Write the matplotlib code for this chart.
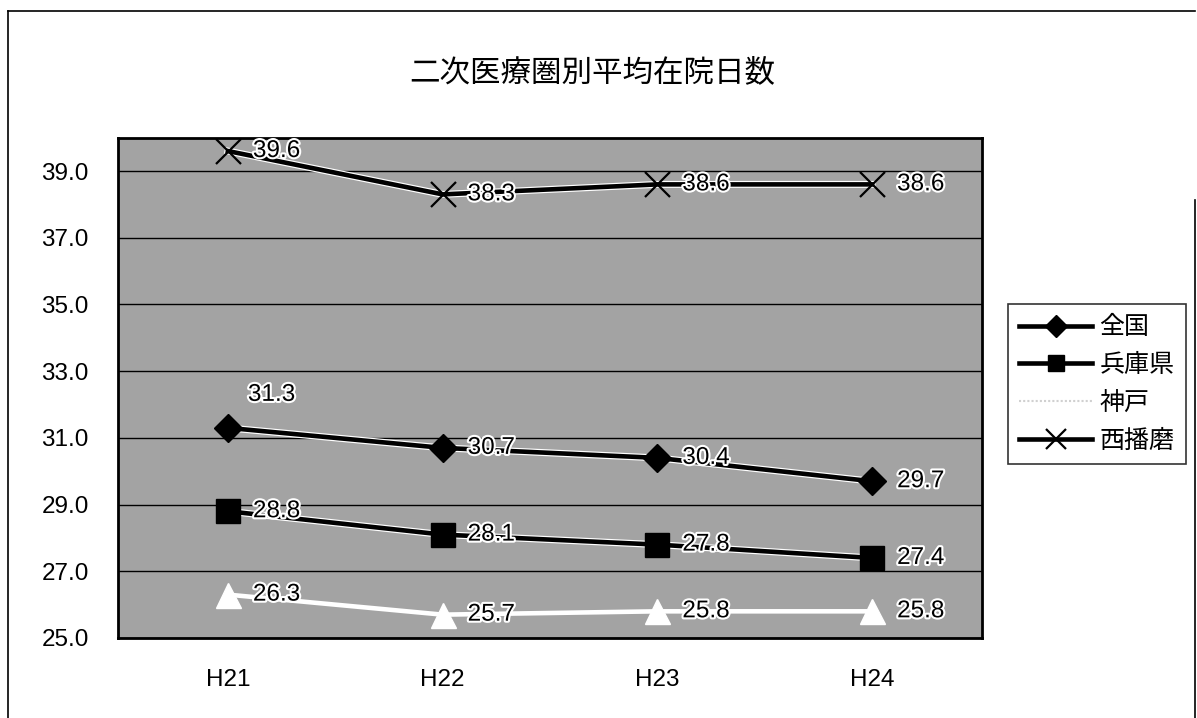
# -*- coding: utf-8 -*-
"""
二次医療圏別平均在院日数 - line chart.
"""

import matplotlib
matplotlib.use("Agg")
from matplotlib import pyplot as plt
from matplotlib import patheffects as pe
from matplotlib.lines import Line2D

plt.rcParams["font.family"] = ["Liberation Sans", "Noto Sans CJK JP", "DejaVu Sans"]

# #############################################################################
# Data
# #############################################################################

years = ["H21", "H22", "H23", "H24"]
zenkoku = [31.3, 30.7, 30.4, 29.7]
hyogo = [28.8, 28.1, 27.8, 27.4]
kobe = [26.3, 25.7, 25.8, 25.8]
nishiharima = [39.6, 38.3, 38.6, 38.6]

series_names = ["全国", "兵庫県", "神戸", "西播磨"]
y_ticks = [25.0, 27.0, 29.0, 31.0, 33.0, 35.0, 37.0, 39.0]

# #############################################################################
# Figure
# #############################################################################

W, H = 1197, 718
figure = plt.figure(figsize=(W / 100, H / 100), dpi=100)
axis = figure.add_axes([118 / W, 1 - 638 / H, (982 - 118) / W, (638 - 137.7) / H])

axis.set_facecolor("#a3a3a3")
xs = list(range(len(years)))

halo = [pe.Stroke(linewidth=5, foreground="white"), pe.Normal()]

line_colors = ["black", "black", "white", "black"]
markers = [
    dict(marker="D", markersize=14, markerfacecolor="black", markeredgecolor="black"),
    dict(marker="s", markersize=17, markerfacecolor="black", markeredgecolor="black"),
    dict(marker="^", markersize=18, markerfacecolor="white", markeredgecolor="white"),
    dict(marker="x", markersize=18, markeredgewidth=1.6, markeredgecolor="black"),
]

all_series = [zenkoku, hyogo, kobe, nishiharima]
for values, color, mk in zip(all_series, line_colors, markers):
    effects = halo if color == "black" else None
    axis.plot(xs, values, color=color, linewidth=3.3, path_effects=effects,
              zorder=3)
    axis.plot(xs, values, linestyle="none", zorder=4, **mk)

# data labels, right of the marker (31.3 sits above-right like in the source)
label_halo = [pe.withStroke(linewidth=3, foreground="white")]
for values in all_series:
    for x, v in zip(xs, values):
        dx, dy = 25, 0
        if v == zenkoku[0] and x == 0:
            dx, dy = 20, 33
        axis.annotate(f"{v:.1f}", xy=(x, v), xytext=(dx * 0.72, dy * 0.72),
                      textcoords="offset points", ha="left", va="center",
                      fontsize=17.5, color="black", path_effects=label_halo,
                      zorder=5)

axis.set_xlim(-0.512, 3.512)
axis.set_ylim(25, 40)
axis.set_xticks(xs)
axis.set_xticklabels(years)
axis.set_yticks(y_ticks)
axis.set_yticklabels([f"{t:.1f}" for t in y_ticks])
axis.tick_params(axis="both", length=0, labelsize=17.5)
axis.tick_params(axis="y", pad=21)
axis.tick_params(axis="x", pad=22)
axis.grid(axis="y", color="black", linewidth=1)
axis.set_axisbelow(True)
for spine in axis.spines.values():
    spine.set_linewidth(2)
    spine.set_color("black")

# title (centred on the whole chart, not the plot area)
figure.text(592 / W, 1 - 73 / H, "二次医療圏別平均在院日数", ha="center",
            va="center", fontsize=22)

# legend
handles = [
    Line2D([], [], color="black", linewidth=3.3, **dict(markers[0], markersize=11)),
    Line2D([], [], color="black", linewidth=3.3, **dict(markers[1], markersize=12)),
    Line2D([], [], linewidth=1.5, color="#d0d0d0", linestyle=(0, (1, 1))),
    Line2D([], [], color="black", linewidth=3.3, **dict(markers[3], markersize=14)),
]
legend = figure.legend(handles, series_names, loc="upper left",
                       bbox_to_anchor=(1008 / W, 1 - 304 / H),
                       fontsize=18, handlelength=2.9, handletextpad=0.3,
                       labelspacing=0.55, borderpad=0.45, fancybox=False,
                       frameon=True, edgecolor="black", borderaxespad=0)
legend.get_frame().set_linewidth(1.2)

# outer chart border
figure.add_artist(Line2D([8 / W, 8 / W], [0, 1 - 11 / H], color="black",
                         linewidth=1.2, transform=figure.transFigure))
figure.add_artist(Line2D([8 / W, 1195 / W], [1 - 11 / H, 1 - 11 / H],
                         color="black", linewidth=1.2,
                         transform=figure.transFigure))
figure.add_artist(Line2D([1195 / W, 1195 / W], [0, 1 - 200 / H], color="black",
                         linewidth=1.2, transform=figure.transFigure))

figure.savefig("out.png", dpi=100)
